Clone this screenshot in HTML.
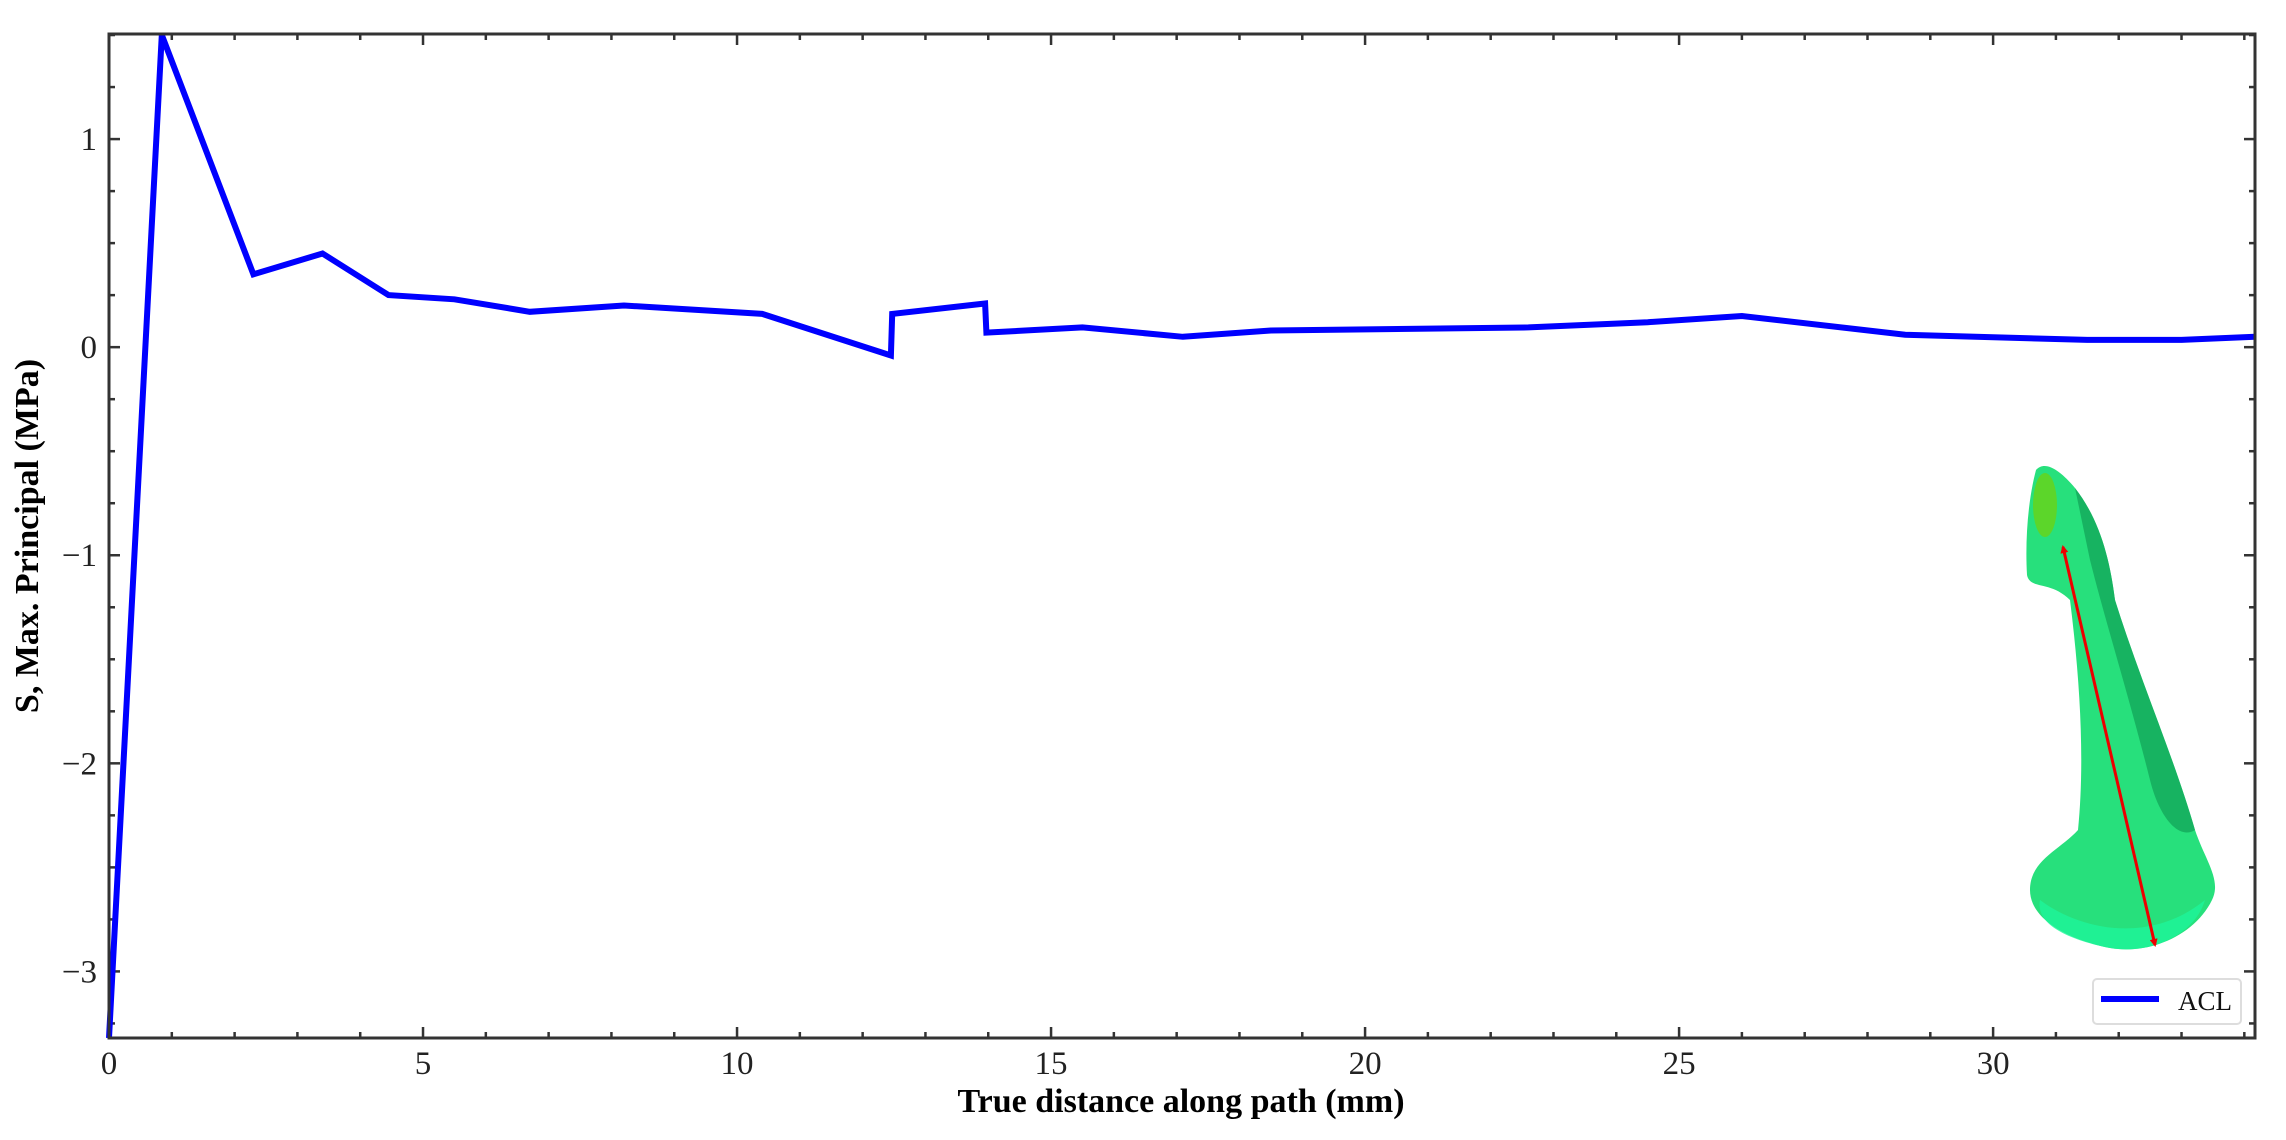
<!DOCTYPE html>
<html><head><meta charset="utf-8"><style>
html,body{margin:0;padding:0;background:#fff;}
svg{display:block;font-family:"Liberation Serif",serif;}
</style></head><body>
<svg id="chart" width="2286" height="1140" viewBox="0 0 2286 1140">
<defs><marker id="ah" markerWidth="8" markerHeight="8" refX="6" refY="4" orient="auto-start-reverse" markerUnits="userSpaceOnUse"><path d="M0,0 L8,4 L0,8 z" fill="#e00"/></marker></defs>
<g id="ticks"></g>
<g>
<path d="M2036,470 C2045,460 2060,470 2075,488 C2100,520 2110,560 2115,600 C2140,680 2175,760 2195,830 C2205,860 2222,880 2212,900 C2195,935 2150,955 2110,948 C2070,940 2030,920 2030,890 C2030,860 2060,850 2078,830 C2085,760 2080,680 2070,600 C2050,580 2030,590 2027,575 C2025,540 2028,500 2036,470 Z" fill="#27e07c"/>
<path d="M2075,488 C2100,520 2110,560 2115,600 C2140,680 2175,760 2195,830 C2180,840 2160,820 2150,780 C2130,700 2105,620 2090,560 Z" fill="#14a85a" opacity="0.8"/>
<path d="M2040,900 C2080,930 2150,945 2205,900 C2195,935 2150,955 2110,948 C2070,940 2035,925 2040,900Z" fill="#1ef59a" opacity="0.8"/>
<ellipse cx="2045" cy="505" rx="12" ry="32" fill="#5cd62a"/>
<line x1="2155" y1="945" x2="2063" y2="547" stroke="#e00" stroke-width="3" marker-start="url(#ah)" marker-end="url(#ah)"/>
</g>
<path id="series" fill="none" stroke="#0000ff" stroke-width="6" stroke-linejoin="miter"/>
<rect x="109" y="34" width="2146" height="1004" fill="none" stroke="#333" stroke-width="3"/>
<g>
<rect x="2093" y="979" width="148" height="45" rx="4" fill="#fff" stroke="#ddd" stroke-width="2"/>
<line x1="2101" y1="999" x2="2159" y2="999" stroke="#0000ff" stroke-width="6"/>
<text x="2178" y="1010" font-size="27" fill="#111">ACL</text>
</g>
<text x="1181" y="1112" font-size="34" font-weight="bold" text-anchor="middle">True distance along path (mm)</text>
<text transform="translate(38,536) rotate(-90)" font-size="34" font-weight="bold" text-anchor="middle">S, Max. Principal (MPa)</text>
</svg>
<script>
const xs=[0,0.84,2.3,3.4,4.45,5.5,6.7,8.2,10.4,12.45,12.47,13.95,13.97,15.5,17.1,18.5,22.6,24.5,26,28.6,31.5,33,34.17];
const ys=[-3.32,1.5,0.35,0.45,0.25,0.23,0.17,0.2,0.16,-0.04,0.16,0.21,0.07,0.095,0.05,0.08,0.095,0.12,0.15,0.06,0.035,0.035,0.05];
const xTicks=[0,5,10,15,20,25,30];
const xTickLabels=["0","5","10","15","20","25","30"];
const yTicks=[1,0,-1,-2,-3];
const yTickLabels=["1","0","\u22121","\u22122","\u22123"];
const X0=109,X1=2255,Y0=34,Y1=1038,xmin=0,xmax=34.17,ymin=-3.32,ymax=1.505;
const sx=v=>X0+(v-xmin)/(xmax-xmin)*(X1-X0);
const sy=v=>Y1-(v-ymin)/(ymax-ymin)*(Y1-Y0);
const ns="http://www.w3.org/2000/svg";
const line=document.getElementById('series');
line.setAttribute('d',xs.map((x,i)=>(i?'L':'M')+sx(x).toFixed(1)+','+sy(ys[i]).toFixed(1)).join(' '));
const g=document.getElementById('ticks');
function L(x1,y1,x2,y2,name){const l=document.createElementNS(ns,'line');l.setAttribute('x1',x1);l.setAttribute('y1',y1);l.setAttribute('x2',x2);l.setAttribute('y2',y2);l.setAttribute('stroke','#333');l.setAttribute('stroke-width',2.5);


g.appendChild(l);}
function T(x,y,s,anchor,name){const t=document.createElementNS(ns,'text');t.setAttribute('x',x);t.setAttribute('y',y);t.setAttribute('font-size',33);t.setAttribute('text-anchor',anchor);t.setAttribute('fill','#222');t.textContent=s;


g.appendChild(t);}
for(let v=0;v<=34;v++){const x=sx(v);const major=v%5===0;const len=major?11:6;
L(x,Y1,x,Y1-len,'x-tick');L(x,Y0,x,Y0+len,'x-tick-top');}
xTicks.forEach((v,i)=>T(sx(v),Y1+36,xTickLabels[i],'middle','x-tick-label'));
for(let k=-13;k<=6;k++){const v=k*0.25;if(v<ymin||v>ymax)continue;const y=sy(v);const major=k%4===0;const len=major?11:6;
L(X0,y,X0+len,y,'y-tick');L(X1,y,X1-len,y,'y-tick-right');}
yTicks.forEach((v,i)=>T(X0-12,sy(v)+11,yTickLabels[i],'end','y-tick-label'));
</script>
</body></html>
